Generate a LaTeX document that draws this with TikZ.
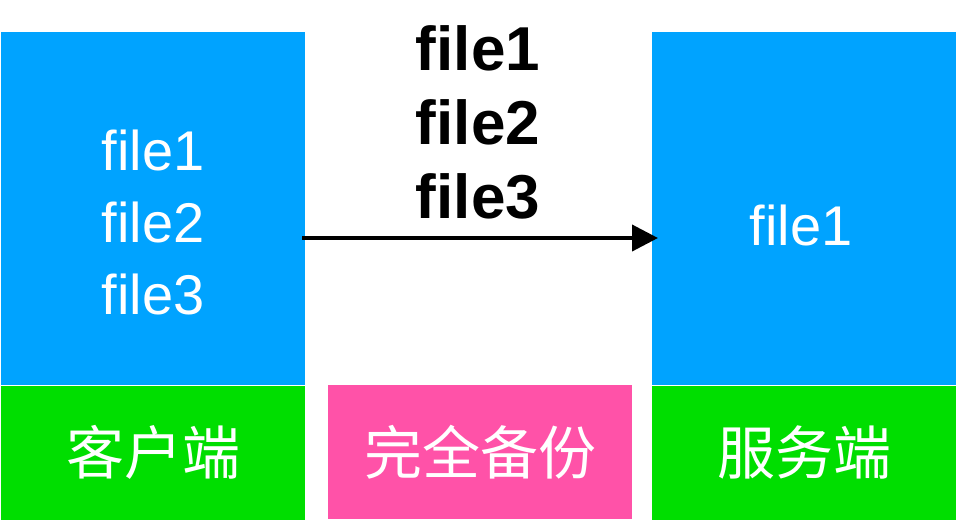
\documentclass[tikz,border=0pt]{standalone}
\usepackage{fontspec}
\setmainfont{Liberation Sans}
\newfontfamily\cjk{Noto Sans CJK SC}
\usetikzlibrary{positioning,arrows.meta}
\definecolor{hostblue}{RGB}{0,163,255}
\definecolor{tagGreen}{RGB}{0,222,0}
\definecolor{modePink}{RGB}{255,82,168}

\begin{document}
\begin{tikzpicture}[x=1pt,y=-1pt,
    host/.style={fill=hostblue, minimum width=304pt, minimum height=353pt, inner sep=0pt, anchor=north west},
    tag/.style={fill=tagGreen, text=white, minimum width=304pt, minimum height=134pt, inner sep=0pt, font=\fontsize{58}{58}\selectfont\cjk},
    files/.style={text=white, align=center, font=\fontsize{56}{72}\selectfont}]
      \useasboundingbox (0,0) rectangle (959,523);
      \node[name=client, host] at (1,32){};
      \node[name=server, host] at (652,32){};
      \node[name=clienttag, tag, below=0pt of client]{客户端};
      \node[name=servertag, tag, below=0pt of server]{服务端};
      \node[name=mode, tag, fill=modePink, anchor=north west] at (328,385){完全备份};
      \node[name=clientfiles, files] at (153,222){file1\\file2\\file3};
      \node[name=serverfiles, files] at (801,225){file1};
      \coordinate (level) at (0,238);
      \draw[line width=4pt, shorten <=-3pt, shorten >=-6pt, -{Triangle[length=26pt,width=26pt]}] (client.east |- level) -- (server.west |- level);
      \node[name=sent, align=center, font=\fontsize{62}{74}\selectfont\bfseries] at (478,122){file1\\file2\\file3};
   \end{tikzpicture}
\end{document}
